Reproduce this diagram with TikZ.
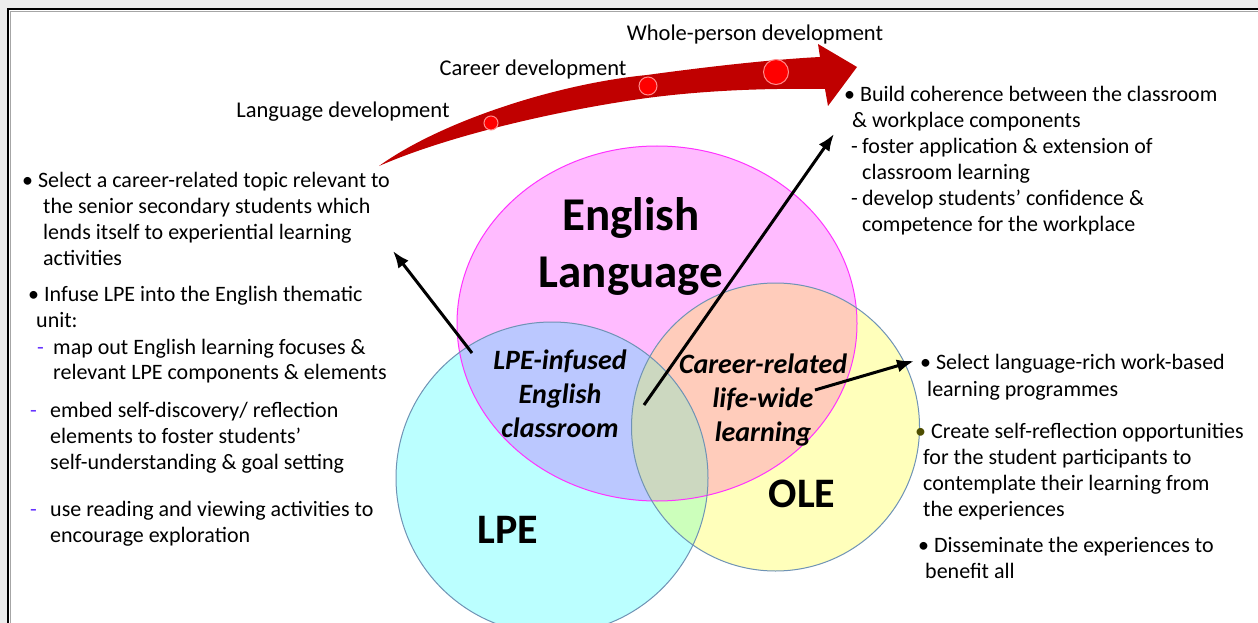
\documentclass[tikz,border=0pt]{standalone}
\usepackage{fontspec}
\setmainfont{Carlito}
\usetikzlibrary{arrows.meta}

\definecolor{engfill}{HTML}{FFBBFF}
\definecolor{lpefill}{HTML}{BBFFFF}
\definecolor{olefill}{HTML}{FFFFBB}
\definecolor{englpe}{HTML}{BBC8FF}
\definecolor{engole}{HTML}{FFCCBB}
\definecolor{lpeole}{HTML}{CCFFBB}
\definecolor{allthree}{HTML}{CCD8C0}
\definecolor{ringblue}{HTML}{6F93B5}
\definecolor{ringpink}{HTML}{FF33FF}
\definecolor{flowred}{HTML}{C00000}
\definecolor{dotred}{HTML}{FF0000}
\definecolor{dashblue}{HTML}{6633FF}
\definecolor{bulletolive}{HTML}{4D4D00}

% the three sets
\newcommand{\engring}{(657,323.5) ellipse [x radius=200pt, y radius=177.5pt]}
\newcommand{\lpering}{(552,478) circle [radius=156pt]}
\newcommand{\olering}{(775.5,427) circle [radius=144pt]}

\newcommand{\dash}[1]{\makebox[#1][l]{\color{dashblue}-}}

\begin{document}
\begin{tikzpicture}[x=1pt, y=-1pt,
  body/.style={font=\fontsize{22}{26}\selectfont, align=left, anchor=north west, inner sep=0pt},
  stage/.style={font=\fontsize{22.5}{26}\selectfont, inner sep=0pt},
  overlap/.style={font=\fontsize{28}{34}\selectfont\bfseries\itshape, align=center, inner sep=0pt},
  setname/.style={font=\fontsize{42}{50}\selectfont\bfseries, inner sep=0pt},
  pointer/.style={line width=3pt, -{Latex[length=17pt,width=13pt]}},
  milestone/.style={fill=dotred, draw=red!45, line width=1pt}]

  \useasboundingbox (0,0) rectangle (1258,623);
  \fill[black!7] (0,0) rectangle (1258,623);
  \fill[white] (8,9) rectangle (1258,623);
  \draw[black!35, line width=1pt] (10.5,623) -- (10.5,11.5) -- (1258,11.5);
  \draw[line width=2pt] (8,623) -- (8,9) -- (1258,9);

  % venn fills
  \fill[engfill] \engring;
  \fill[lpefill] \lpering;
  \fill[olefill] \olering;
  \begin{scope}
    \clip \engring;
    \fill[englpe] \lpering;
    \fill[engole] \olering;
  \end{scope}
  \begin{scope}
    \clip \lpering;
    \fill[lpeole] \olering;
    \clip \olering;
    \fill[allthree] \engring;
  \end{scope}
  \draw[ringpink, line width=1pt] \engring;
  \draw[ringblue, line width=1pt] \lpering;
  \draw[ringblue, line width=1pt] \olering;

  % set names
  \node[setname, font=\fontsize{47}{57}\selectfont\bfseries, align=center] (eng) at (631,246) {English\\Language};
  \node[setname] (lpe) at (508,530) {LPE};
  \node[setname] (ole) at (802,494) {OLE};

  \node[overlap] (infused) at (560,394) {LPE-infused\\English\\classroom};
  \node[overlap] (lifewide) at (763,400) {Career-related\\life-wide\\learning};

  % progression arrow
  \fill[flowred] (379,166) .. controls (440,122) and (555,84) .. (647,75)
    .. controls (720,65) and (780,59) .. (820,57) -- (818,44) -- (857,67) -- (828,106) -- (825,89)
    .. controls (760,88) and (700,91) .. (647,98) .. controls (560,110) and (450,135) .. (379,166) -- cycle;
  \path[milestone] (491,123) circle [radius=7pt];
  \path[milestone] (648,86) circle [radius=9pt];
  \path[milestone] (776,72) circle [radius=12.5pt];

  \node[stage] (langdev) at (343,112) {Language development};
  \node[stage] (cardev) at (533,70) {Career development};
  \node[stage] (wholedev) at (755,35) {Whole-person development};

  % notes
  \node[body] (topic) at (22,172) {\textbullet\ Select a career-related topic relevant to\\
    \hspace*{21pt}the senior secondary students which\\
    \hspace*{21pt}lends itself to experiential learning\\
    \hspace*{21pt}activities};
  \node[body] (infuse) at (28,286) {\textbullet\ Infuse LPE into the English thematic\\
    \hspace*{8pt}unit:\\[1pt]
    \hspace*{9pt}\dash{16pt}map out English learning focuses \&\\[-1pt]
    \hspace*{25pt}relevant LPE components \& elements\\[12pt]
    \hspace*{2pt}\dash{20pt}embed self-discovery/ reflection\\
    \hspace*{22pt}elements to foster students'\\
    \hspace*{22pt}self-understanding \& goal setting\\[21pt]
    \hspace*{2pt}\dash{20pt}use reading and viewing activities to\\
    \hspace*{22pt}encourage exploration};
  \node[body] (build) at (844,86) {\textbullet\ Build coherence between the classroom\\
    \hspace*{8pt}\& workplace components\\
    \hspace*{7pt}\makebox[11pt][l]{-}foster application \& extension of\\
    \hspace*{18pt}classroom learning\\
    \hspace*{7pt}\makebox[11pt][l]{-}develop students' confidence \&\\
    \hspace*{18pt}competence for the workplace};
  \node[body] (select) at (920,354) {\textbullet\ Select language-rich work-based\\[1pt]
    \hspace*{7pt}learning programmes};
  \node[body] (create) at (915,423) {{\color{bulletolive}\textbullet}\ Create self-reflection opportunities\\
    \hspace*{8pt}for the student participants to\\
    \hspace*{8pt}contemplate their learning from\\
    \hspace*{8pt}the experiences};
  \node[body] (share) at (918,537) {\textbullet\ Disseminate the experiences to\\
    \hspace*{7pt}benefit all};

  % pointers from the overlaps to the notes
  \coordinate (infusedTail) at (472,353);
  \coordinate (topicTip) at (393,251);
  \coordinate (centreTail) at (644,405);
  \coordinate (buildTip) at (834,134);
  \coordinate (lifewideTail) at (815,390);
  \coordinate (selectTip) at (914,361);
  \draw[pointer] (infusedTail) -- (topicTip);
  \draw[pointer] (centreTail) -- (buildTip);
  \draw[pointer] (lifewideTail) -- (selectTip);
\end{tikzpicture}
\end{document}
